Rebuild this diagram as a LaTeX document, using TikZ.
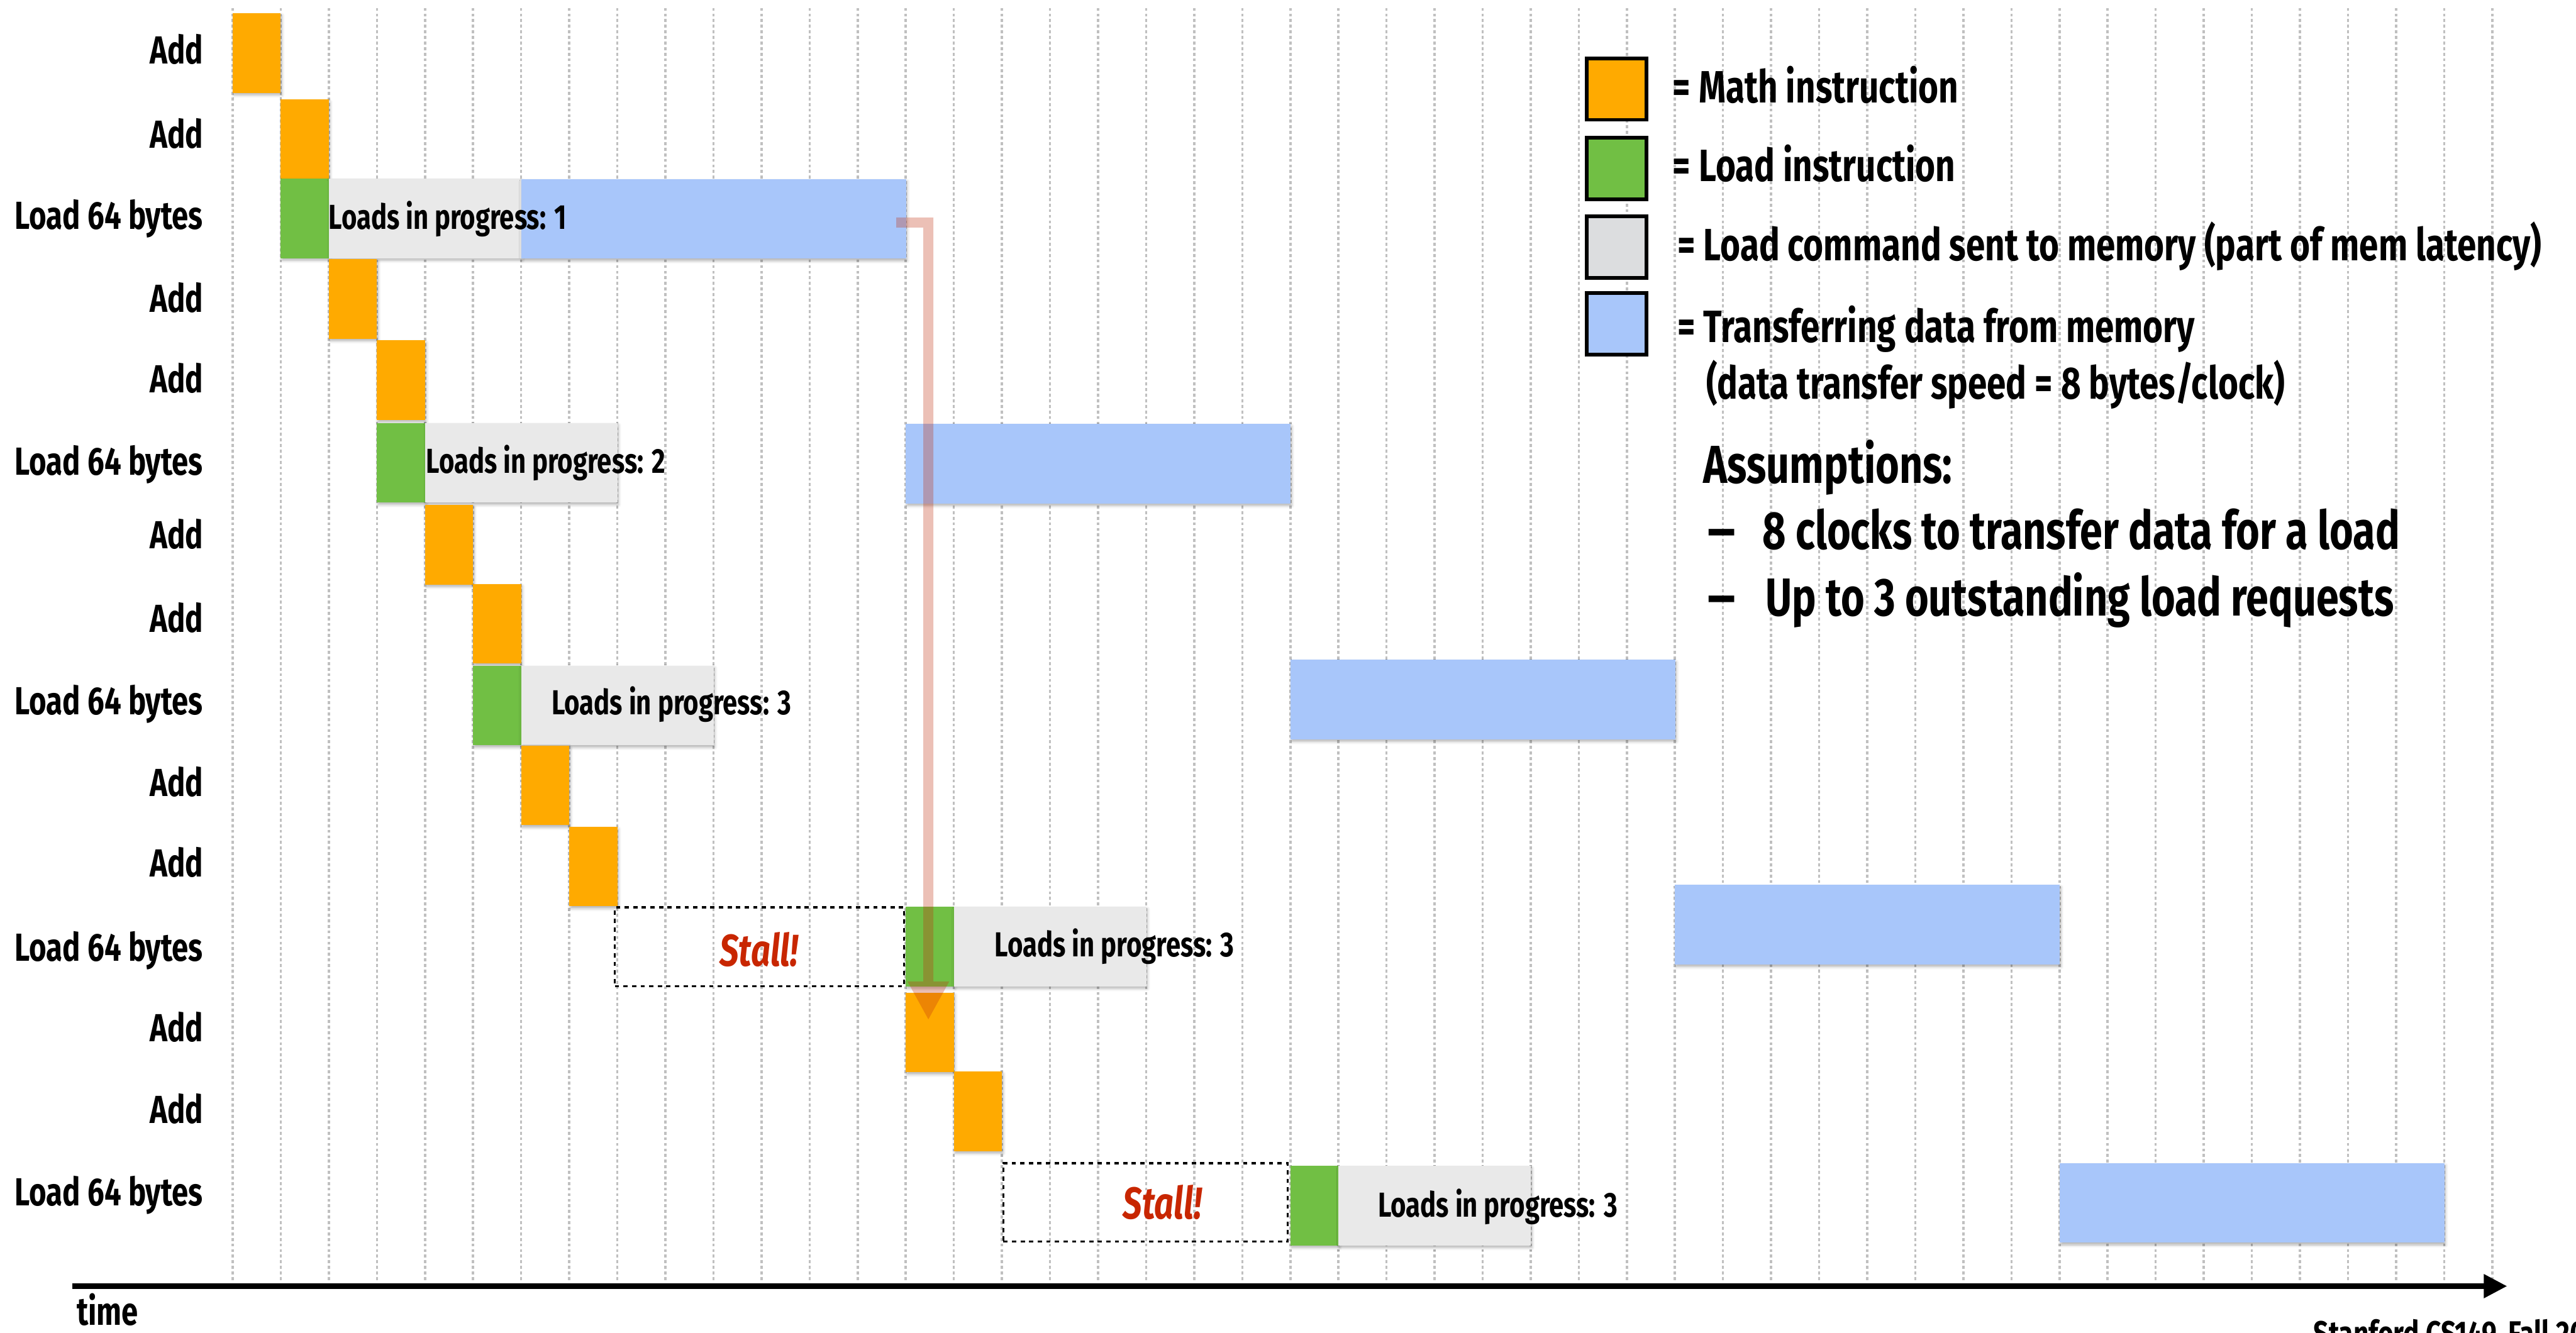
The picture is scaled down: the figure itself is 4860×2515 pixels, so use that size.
\documentclass[tikz,border=0pt]{standalone}
\usepackage{fontspec}
\setmainfont{Fira Sans}[FakeStretch=0.76]
\newfontfamily\widefont{Fira Sans}
\usetikzlibrary{arrows.meta,shadows.blur}
\definecolor{cOr}{RGB}{255,170,0}
\definecolor{cGr}{RGB}{113,191,68}
\definecolor{cGy}{RGB}{233,233,233}
\definecolor{cLg}{RGB}{220,221,223}
\definecolor{cBl}{RGB}{168,198,250}
\definecolor{cGrid}{RGB}{192,192,192}
\definecolor{cRed}{RGB}{200,38,0}
\definecolor{cArr}{RGB}{193,48,14}
\tikzset{
  every node/.style={inner sep=0pt, outer sep=0pt},
  gridline/.style={draw=cGrid, line width=1.2pt, dash pattern=on 1.6pt off 1.4pt},
  blk/.style={draw=none, anchor=north west,
    blur shadow={shadow xshift=0.6pt, shadow yshift=-1.2pt, shadow blur radius=1.5pt, shadow opacity=30}},
  stallbox/.style={draw=black, line width=1.15pt, dash pattern=on 2.3pt off 2.3pt, anchor=north west, fill=none},
  legbox/.style={draw=black, line width=2pt, anchor=north west, minimum width=1.12cm, minimum height=1.16cm},
  rowlab/.style={anchor=base east, font=\fontsize{21}{24}\selectfont\bfseries},
  lip/.style={anchor=base west, font=\fontsize{18.6}{22}\selectfont\bfseries},
  stalltxt/.style={anchor=base, text=cRed, font=\fontsize{24}{28}\selectfont\bfseries\itshape},
  legtxt/.style={anchor=base west, font=\fontsize{24.3}{28}\selectfont\bfseries},
  asstxt/.style={anchor=base west, font=\fontsize{28.7}{34}\selectfont\bfseries},
}
\newcommand\blk[5]{\node[blk, fill=#2, minimum width={0.907cm*#4}, minimum height=1.5cm] (#1) at ({439+90.7*#3},#5) {};}
\begin{document}
\begin{tikzpicture}[x=0.01cm, y=-0.01cm]
\useasboundingbox (0,0) rectangle (4860,2515);
% grid
\foreach \k in {0,...,47} \draw[gridline] ({439+90.7*\k},15) -- ({439+90.7*\k},2420);
% time axis
\coordinate (axS) at (136,2427);
\coordinate (axE) at (4730,2427);
\draw[line width=2.85pt, -{Triangle[length=12.5pt,width=12.2pt]}] (axS) -- (axE);
\node[anchor=base west, font=\fontsize{21}{24}\selectfont\bfseries] (time) at (145,2500) {time};
% row labels
\node[rowlab] (L1) at (383,121) {Add};
\node[rowlab] (L2) at (383,279) {Add};
\node[rowlab] (L3) at (383,432) {Load 64 bytes};
\node[rowlab] (L4) at (383,589) {Add};
\node[rowlab] (L5) at (383,741) {Add};
\node[rowlab] (L6) at (383,896) {Load 64 bytes};
\node[rowlab] (L7) at (383,1035) {Add};
\node[rowlab] (L8) at (383,1193) {Add};
\node[rowlab] (L9) at (383,1348) {Load 64 bytes};
\node[rowlab] (L10) at (383,1503) {Add};
\node[rowlab] (L11) at (383,1655) {Add};
\node[rowlab] (L12) at (383,1813) {Load 64 bytes};
\node[rowlab] (L13) at (383,1965) {Add};
\node[rowlab] (L14) at (383,2120) {Add};
\node[rowlab] (L15) at (383,2275) {Load 64 bytes};
% stall boxes
\node[stallbox, minimum width=5.45cm, minimum height=1.49cm] (s12) at (1160,1712) {};
\node[stallbox, minimum width=5.36cm, minimum height=1.48cm] (s15) at (1893,2195) {};
% blocks
\blk{o1}{cOr}{0}{1}{25}
\blk{o2}{cOr}{1}{1}{188}
\blk{g3}{cGr}{1}{1}{337}
\blk{p3}{cGy}{2}{4}{337}
\blk{b3}{cBl}{6}{8}{338}
\blk{o4}{cOr}{2}{1}{489}
\blk{o5}{cOr}{3}{1}{642}
\blk{g6}{cGr}{3}{1}{798}
\blk{p6}{cGy}{4}{4}{798}
\blk{b6}{cBl}{14}{8}{800}
\blk{o7}{cOr}{4}{1}{953}
\blk{o8}{cOr}{5}{1}{1102}
\blk{g9}{cGr}{5}{1}{1256}
\blk{p9}{cGy}{6}{4}{1256}
\blk{b9}{cBl}{22}{8}{1245}
\blk{o10}{cOr}{6}{1}{1407}
\blk{o11}{cOr}{7}{1}{1560}
\blk{g12}{cGr}{14}{1}{1711}
\blk{p12}{cGy}{15}{4}{1711}
\blk{b12}{cBl}{30}{8}{1670}
\blk{o13}{cOr}{14}{1}{1873}
\blk{o14}{cOr}{15}{1}{2022}
\blk{g15}{cGr}{22}{1}{2200}
\blk{p15}{cGy}{23}{4}{2200}
\blk{b15}{cBl}{38}{8}{2195}
% in-progress texts
\node[lip] (t3) at (620,432) {Loads in progress: 1};
\node[lip] (t6) at (804,893) {Loads in progress: 2};
\node[lip] (t9) at (1041,1348) {Loads in progress: 3};
\node[lip] (t12) at (1877,1805) {Loads in progress: 3};
\node[lip] (t15) at (2600,2297) {Loads in progress: 3};
\node[stalltxt] (st12) at (1432,1823) {Stall!};
\node[stalltxt] (st15) at (2193,2300) {Stall!};
% dependency arrow
\coordinate (arrS) at (1691,420);
\coordinate (arrE) at (1751.5,1925);
\begin{scope}[transparency group, opacity=0.3]
\draw[cArr, line width=5.4pt, -{Triangle[length=20.8pt,width=20.8pt]}] (arrS) -| (arrE);
\end{scope}
% legend
\node[legbox, fill=cOr] (lg1) at (2994,110) {};
\node[legbox, fill=cGr] (lg2) at (2994,260) {};
\node[legbox, fill=cLg] (lg3) at (2994,408) {};
\node[legbox, fill=cBl] (lg4) at (2994,553) {};
\node[legtxt] (lt1) at (3156,194) {= Math instruction};
\node[legtxt] (lt2) at (3156,342) {= Load instruction};
\node[legtxt] (lt3) at (3165,492) {= Load command sent to memory (part of mem latency)};
\node[legtxt] (lt4) at (3165,646) {= Transferring data from memory};
\node[legtxt] (lt5) at (3219,753) {(data transfer speed = 8 bytes/clock)};
\node[asstxt] (as0) at (3214,912) {Assumptions:};
\node[asstxt, font=\fontsize{28.7}{34}\selectfont\widefont\bfseries] (d1) at (3222,1037) {–};
\node[asstxt, font=\fontsize{28.7}{34}\selectfont\widefont\bfseries] (d2) at (3222,1162) {–};
\node[asstxt] (as1) at (3325,1037) {8 clocks to transfer data for a load};
\node[asstxt] (as2) at (3331,1162) {Up to 3 outstanding load requests};
% footer
\node[anchor=north west, font=\fontsize{18.8}{22}\selectfont\bfseries] (foot) at (4365,2490) {Stanford CS149, Fall 2023};
\end{tikzpicture}
\end{document}
